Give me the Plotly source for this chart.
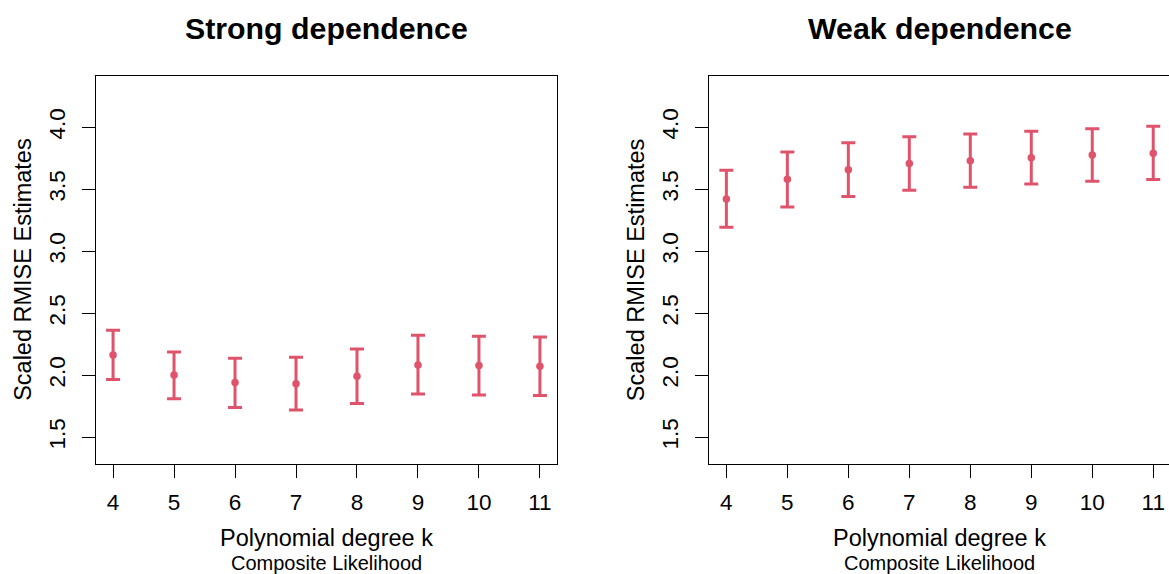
import plotly.graph_objects as go

# ---- data ----
degrees = [4, 5, 6, 7, 8, 9, 10, 11]
strong_est = [2.164, 2.002, 1.941, 1.932, 1.992, 2.083, 2.078, 2.073]
strong_upper = [2.363, 2.188, 2.137, 2.145, 2.212, 2.323, 2.315, 2.309]
strong_lower = [1.965, 1.811, 1.739, 1.720, 1.771, 1.849, 1.841, 1.836]
weak_est = [3.422, 3.581, 3.658, 3.707, 3.731, 3.755, 3.777, 3.790]
weak_upper = [3.653, 3.801, 3.876, 3.924, 3.946, 3.968, 3.989, 4.008]
weak_lower = [3.194, 3.357, 3.441, 3.492, 3.516, 3.543, 3.564, 3.578]
y_ticks = [1.5, 2.0, 2.5, 3.0, 3.5, 4.0]
y_tick_labels = ["1.5", "2.0", "2.5", "3.0", "3.5", "4.0"]
x_tick_labels = [str(d) for d in degrees]
titles = ["Strong dependence", "Weak dependence"]
xlab = "Polynomial degree k"
ylab = "Scaled RMISE Estimates"
sub = "Composite Likelihood"

W, H = 1169, 574
COL = "#DF536B"
FONT = "Liberation Sans, Arial, Helvetica, sans-serif"

def px_x(p):
    return p / W

def px_y(p):
    return 1 - p / H

top_px, bot_px = 75.7, 464.0
panels = [(96.0, 557.0), (709.3, 1170.0)]
pxu = (557.0 - 96.0) / 7.56
xr0 = 3.72

fig = go.Figure()

series = [(strong_est, strong_upper, strong_lower), (weak_est, weak_upper, weak_lower)]
for i, (est, up, lo) in enumerate(series):
    xa = "x" if i == 0 else "x2"
    ya = "y" if i == 0 else "y2"
    fig.add_trace(go.Scatter(
        x=degrees, y=est, mode="markers", xaxis=xa, yaxis=ya,
        marker=dict(color=COL, size=7.5),
        error_y=dict(type="data", symmetric=False,
                     array=[u - e for u, e in zip(up, est)],
                     arrayminus=[e - l for e, l in zip(est, lo)],
                     color=COL, thickness=3, width=7),
        showlegend=False, hoverinfo="skip"))

for i, (l, r) in enumerate(panels):
    sfx = "" if i == 0 else "2"
    right_edge = min(r, W)
    xrange_ = [xr0, xr0 + (right_edge - l) / pxu]
    fig.update_layout(**{
        "xaxis" + sfx: dict(
            domain=[px_x(l), px_x(right_edge)], range=xrange_, anchor="y" + sfx,
            tickvals=degrees, ticktext=x_tick_labels, ticks="outside", ticklen=13,
            tickcolor="black", tickwidth=1, showline=True, linecolor="black",
            linewidth=1, mirror=True, showgrid=False, zeroline=False,
            tickfont=dict(size=22.5, color="black", family=FONT),
            ticklabelstandoff=5, automargin=False),
        "yaxis" + sfx: dict(
            domain=[px_y(bot_px), px_y(top_px)], range=[1.284, 4.416], anchor="x" + sfx,
            tickvals=y_ticks, ticktext=y_tick_labels, ticks="outside", ticklen=13,
            tickcolor="black", tickwidth=1, showline=True, linecolor="black",
            linewidth=1, mirror=(i == 0), showgrid=False, zeroline=False,
            tickangle=-90, tickfont=dict(size=22.5, color="black", family=FONT),
            ticklabelstandoff=8, automargin=False),
    })
    cx = (l + r) / 2
    fig.add_annotation(text="<b>" + titles[i] + "</b>", x=px_x(cx), y=px_y(28),
                       xref="paper", yref="paper", showarrow=False,
                       font=dict(size=30.3, color="black", family=FONT),
                       xanchor="center", yanchor="middle")
    fig.add_annotation(text=xlab, x=px_x(cx), y=px_y(538), xref="paper", yref="paper",
                       showarrow=False, font=dict(size=23.5, color="black", family=FONT),
                       xanchor="center", yanchor="middle")
    fig.add_annotation(text=sub, x=px_x(cx), y=px_y(563), xref="paper", yref="paper",
                       showarrow=False, font=dict(size=20, color="black", family=FONT),
                       xanchor="center", yanchor="middle")
    fig.add_annotation(text=ylab, x=px_x(l - 73), y=px_y((top_px + bot_px) / 2),
                       xref="paper", yref="paper", showarrow=False, textangle=-90,
                       font=dict(size=23.5, color="black", family=FONT),
                       xanchor="center", yanchor="middle")

fig.update_layout(width=W, height=H, margin=dict(l=0, r=0, t=0, b=0),
                  paper_bgcolor="white", plot_bgcolor="white",
                  font=dict(family=FONT, color="black"))

fig.write_html("out.html")
